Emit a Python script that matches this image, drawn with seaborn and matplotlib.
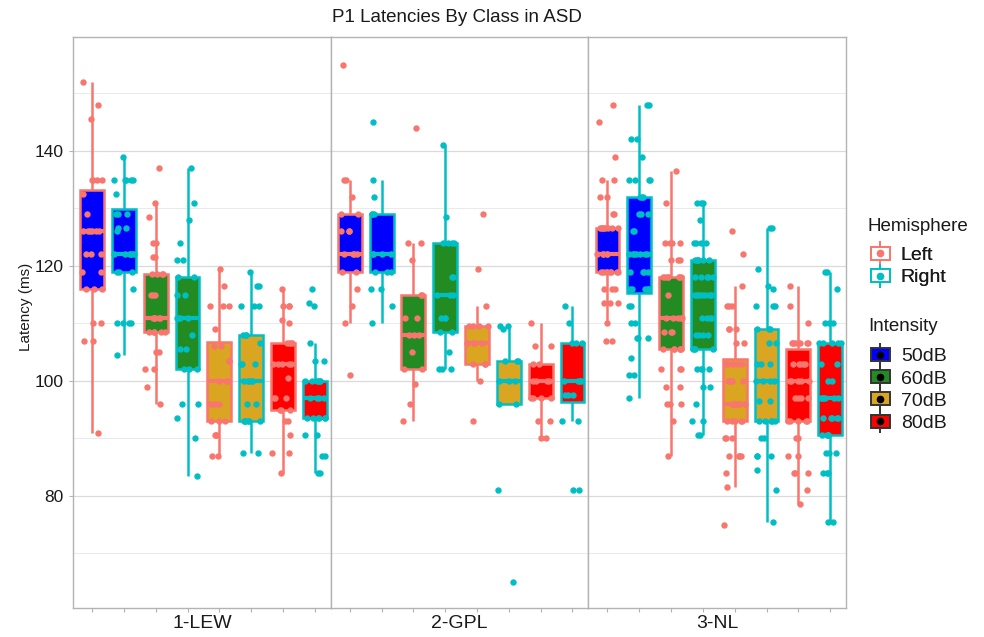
import numpy as np
import pandas as pd
import matplotlib
matplotlib.use("Agg")
import matplotlib.pyplot as plt
from matplotlib.patches import Patch
from matplotlib.lines import Line2D
from matplotlib.ticker import FixedLocator
import seaborn as sns

CLASSES = ["1-LEW", "2-GPL", "3-NL"]
INTENSITIES = ["50dB", "60dB", "70dB", "80dB"]
HEMISPHERES = ["Left", "Right"]

FILL_COLORS = ["#0000FF", "#228B22", "#DAA520", "#FF0000"]
HEMI_COLORS = ["#F8766D", "#00BFC4"]

LEW_50_L = [152, 148, 145.5, 135, 135, 135, 135, 132.5, 129, 126, 126, 126, 126, 126, 126,
            122, 122, 122, 119, 119, 116, 116, 116, 110, 110, 107, 107, 91]
LEW_50_R = [139, 135, 135, 135, 135, 135, 132.5, 129, 129, 129, 126.5, 126.5, 126,
            122, 122, 122, 122, 122, 122, 119, 119, 119, 116, 110, 110, 110, 110, 104.5]
LEW_60_L = [137, 131, 128.5, 124, 124, 121.5, 121.5, 118.5, 118.5, 118.5, 118.5, 115, 115, 115,
            111, 111, 111, 111, 111, 108.5, 108.5, 108.5, 108.5, 108.5, 105, 105, 102, 102, 99, 96]
LEW_60_R = [137, 131, 128, 124, 121, 121, 118, 118, 115, 115, 111, 111, 111, 111, 108,
            105.5, 105.5, 102, 102, 102, 96, 96, 93.5, 90, 83.5]
LEW_70_L = [119.5, 116.5, 113, 113, 113, 109, 106, 106, 103.5, 103.5, 100, 100, 100,
            96, 96, 96, 93, 93, 93, 90.5, 90.5, 90.5, 87, 87]
LEW_70_R = [119, 116.5, 116.5, 113, 113, 113, 108, 108, 108, 106.5, 103, 103, 103,
            100, 100, 100, 100, 100, 96, 96, 93, 93, 93, 93, 93, 93, 87.5, 87.5]
LEW_80_L = [116, 113, 113, 113, 110.5, 110, 106.5, 106.5, 106.5, 106.5, 103, 103, 103, 103, 103,
            100.5, 97, 97, 97, 95, 95, 95, 93, 93, 90.5, 87.5, 87.5, 84]
LEW_80_R = [116, 113.5, 113, 106.5, 103.5, 103.5, 100, 100, 100, 100, 100, 100, 97, 97, 97, 97,
            93.5, 93.5, 93.5, 93.5, 93.5, 93.5, 90.5, 90.5, 87, 87, 84, 84]

GPL_50_L = [155, 135, 135, 132, 129, 129, 126, 126, 126, 122, 122, 122, 122, 119, 119, 116, 113, 110, 101]
GPL_50_R = [145, 135, 132, 129, 129, 129, 122, 122, 122, 122, 119, 119, 119, 116, 116, 113, 110]
GPL_60_L = [144, 124, 124, 121, 115, 115, 111, 111, 108, 108, 108, 105, 102, 102, 99.5, 96, 93]
GPL_60_R = [141, 128.5, 124, 124, 124, 124, 118, 118, 115, 115, 115, 111, 111, 111, 108.5, 108.5,
            105, 102, 102, 102]
GPL_70_L = [129, 119.5, 113, 109.5, 109.5, 109.5, 109.5, 106.5, 106.5, 106.5, 106.5, 103, 103, 103, 100, 93]
GPL_70_R = [109.5, 109.5, 109, 103.5, 103.5, 103.5, 100, 100, 100, 96, 96, 81, 65]
GPL_80_L = [110, 106, 106, 103, 103, 100, 100, 100, 100, 97, 97, 97, 97, 93, 93, 90, 90]
GPL_80_R = [113, 110, 106.5, 106.5, 106.5, 100, 100, 100, 100, 97.5, 97.5, 97.5, 93, 93, 81, 81]

NL_50_L = [148, 145, 139, 135, 135, 132, 132, 129, 129, 126.5, 126.5, 126.5, 126.5, 126.5, 126.5,
           126.5, 126.5, 122, 122, 122, 122, 122, 119, 119, 119, 119, 119, 119, 119, 119,
           116, 116, 116, 113.5, 113.5, 113.5, 110, 107, 107]
NL_50_R = [148, 148, 142, 142, 139, 135, 135, 135, 135, 132, 132, 132, 129, 129, 129, 126, 126,
           122, 122, 122, 122, 122, 122, 122, 119, 119, 119, 119, 116, 116, 116, 116, 116,
           113, 113, 110, 110, 107.5, 107.5, 107.5, 104, 101, 101, 97]
NL_60_L = [136.5, 131, 124, 124, 124, 124, 121, 121, 121, 118, 118, 118, 118, 118, 118, 118, 115,
           111, 111, 111, 111, 111, 108.5, 108.5, 108.5, 105.5, 105.5, 105.5, 105.5, 105.5, 105.5,
           102, 102, 102, 99, 99, 96, 96, 96, 93, 87]
NL_60_R = [131, 131, 131, 128, 124, 124, 124, 124, 121, 121, 121, 121, 121, 121, 118, 118, 118, 118, 118,
           115, 115, 115, 115, 115, 115, 115, 115, 111, 111, 111, 111, 108, 108, 108, 108,
           105.5, 105.5, 105.5, 105.5, 102, 102, 102, 102, 99, 99, 96, 93, 93, 90.5, 90.5]
NL_70_L = [126, 122, 116.5, 113, 113, 113, 109, 109, 109, 106.5, 106.5, 103, 103, 103, 103, 103,
           100, 100, 100, 100, 100, 96, 96, 96, 96, 96, 96, 96, 96, 93, 93, 93, 93, 93,
           90, 90, 90, 87, 87, 87, 87, 84, 81.5, 75]
NL_70_R = [126.5, 126.5, 119.5, 116.5, 116, 113, 113, 113, 109, 109, 109, 106.5, 106.5, 103, 103, 103,
           100, 100, 100, 100, 96.5, 96.5, 93, 93, 93, 93, 93, 90, 90, 87, 87, 87, 84.5, 81, 75.5]
NL_80_L = [116.5, 113, 110, 106.5, 106.5, 106.5, 106.5, 106.5, 106.5, 106.5, 103, 103, 103, 103, 103,
           100, 100, 100, 100, 100, 97, 97, 97, 97, 93, 93, 93, 93, 93, 90, 90, 87, 87,
           84, 84, 84, 81, 78.5]
NL_80_R = [119, 119, 116, 110, 110, 110, 106.5, 106.5, 106.5, 106.5, 106.5, 103, 103, 100, 100,
           97, 97, 97, 97, 97, 97, 93.5, 93.5, 93.5, 93.5, 93.5, 90.5, 90.5, 90.5, 90.5, 90.5,
           87.5, 87.5, 87.5, 84, 84, 84, 75.5, 75.5]

BOXES = {
    "1-LEW": [[LEW_50_L, LEW_50_R], [LEW_60_L, LEW_60_R], [LEW_70_L, LEW_70_R], [LEW_80_L, LEW_80_R]],
    "2-GPL": [[GPL_50_L, GPL_50_R], [GPL_60_L, GPL_60_R], [GPL_70_L, GPL_70_R], [GPL_80_L, GPL_80_R]],
    "3-NL": [[NL_50_L, NL_50_R], [NL_60_L, NL_60_R], [NL_70_L, NL_70_R], [NL_80_L, NL_80_R]],
}

rows = []
for cls in CLASSES:
    for i_idx, intensity in enumerate(INTENSITIES):
        for h_idx, hemi in enumerate(HEMISPHERES):
            for v in BOXES[cls][i_idx][h_idx]:
                rows.append([cls, intensity, hemi, 2 * i_idx + h_idx, v])
df = pd.DataFrame(rows, columns=["Class", "Intensity", "Hemisphere", "pos", "Latency"])

sns.set_theme(style="white")
plt.rcParams['font.family'] = ['Liberation Sans', 'DejaVu Sans']

np.random.seed(7)
fill_palette = dict(zip(INTENSITIES, FILL_COLORS))
TEXT = "#1A1A1A"

fig, axes = plt.subplots(1, 3, figsize=(9.84, 6.37), dpi=100, sharey=True)
fig.subplots_adjust(left=0.0742, right=0.8598, top=0.942, bottom=0.0455, wspace=0)

for ax, cls in zip(axes, CLASSES):
    cls_df = df[df["Class"] == cls]
    for h_idx, hemi in enumerate(HEMISPHERES):
        sub = cls_df[cls_df["Hemisphere"] == hemi]
        sns.boxplot(data=sub, x="pos", y="Latency", hue="Intensity", hue_order=INTENSITIES,
                    palette=fill_palette, saturation=1, native_scale=True, dodge=False,
                    width=0.375, linecolor=HEMI_COLORS[h_idx], linewidth=1.8,
                    showfliers=False, showcaps=False, medianprops={"linewidth": 3.0},
                    legend=False, ax=ax)
    for h_idx, hemi in enumerate(HEMISPHERES):
        sub = cls_df[cls_df["Hemisphere"] == hemi]
        sns.stripplot(data=sub, x="pos", y="Latency", native_scale=True,
                      color=HEMI_COLORS[h_idx], jitter=0.17, size=4.6, linewidth=0,
                      zorder=4, ax=ax)

    ax.set_xlim(-0.6, 7.5)
    ax.set_ylim(60.5, 159.8)
    ax.set_xticks(range(8))
    ax.set_xticklabels([])
    ax.set_xlabel("")
    ax.yaxis.set_major_locator(FixedLocator([80, 100, 120, 140]))
    ax.yaxis.set_minor_locator(FixedLocator([70, 90, 110, 130, 150]))
    ax.grid(which="major", axis="y", color="#DADADA", linewidth=0.9)
    ax.grid(which="minor", axis="y", color="#EAEAEA", linewidth=0.7)
    ax.set_axisbelow(True)
    for sp in ax.spines.values():
        sp.set_color("#B3B3B3")
        sp.set_linewidth(1.0)
    ax.tick_params(axis="x", length=3, width=0.8, color="#B3B3B3", bottom=True)
    ax.tick_params(axis="y", which="major", length=3, width=0.8, color="#B3B3B3",
                   labelsize=12.5, labelcolor=TEXT, left=True)
    ax.tick_params(axis="y", which="minor", length=0)
    ax.text(0.5, -0.013, cls, transform=ax.transAxes, ha="center", va="top",
            fontsize=14, color=TEXT)

for ax in axes[1:]:
    ax.tick_params(axis="y", left=False)
    ax.set_ylabel("")
axes[0].set_ylabel("Latency (ms)", fontsize=11, color=TEXT)
axes[0].yaxis.set_label_coords(-0.155, 0.527)

fig.text(0.464, 0.972, "P1 Latencies By Class in ASD", ha="center", va="center",
         fontsize=13.5, color=TEXT)


def key(face, edge, dot):
    return (Line2D([], [], color=edge, marker="|", markersize=17, mew=1.4, ls=""),
            Patch(facecolor=face, edgecolor=edge, linewidth=1.4),
            Line2D([], [], color=dot, marker="o", markersize=4.5, ls=""))


hemi_handles = [key("white", c, c) for c in HEMI_COLORS]
int_handles = [key(c, "#333333", "black") for c in FILL_COLORS]

legend_kw = dict(loc="upper left", frameon=False, fontsize=14, handlelength=1.0,
                 handleheight=0.65, labelspacing=0.25, handletextpad=0.55)
fig.text(0.882, 0.645, "Hemisphere", ha="left", va="center", fontsize=13.5, color=TEXT)
leg1 = fig.legend(hemi_handles, HEMISPHERES, bbox_to_anchor=(0.867, 0.640), **legend_kw)
fig.text(0.882, 0.488, "Intensity", ha="left", va="center", fontsize=13.5, color=TEXT)
leg2 = fig.legend(int_handles, INTENSITIES, bbox_to_anchor=(0.867, 0.481), **legend_kw)
fig.add_artist(leg1)
for leg in (leg1, leg2):
    for t in leg.get_texts():
        t.set_color(TEXT)

fig.savefig("out.png", dpi=100)
